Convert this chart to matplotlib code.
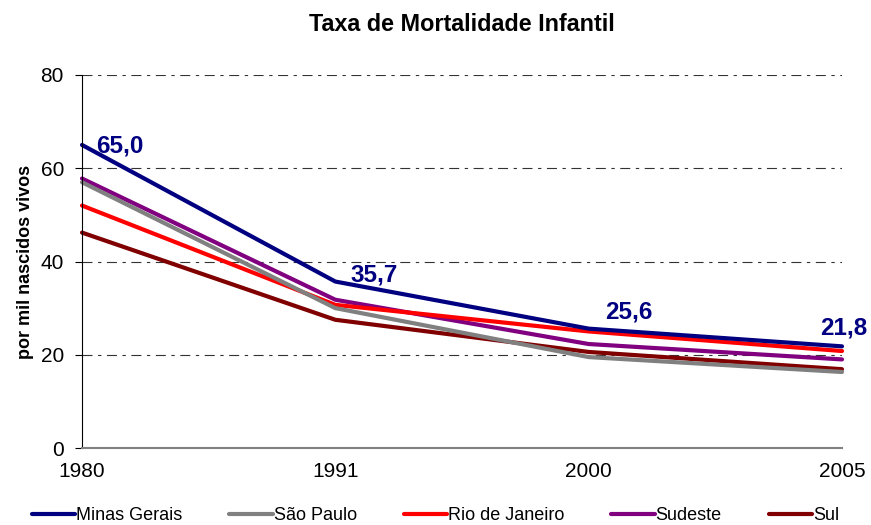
import numpy as np
import matplotlib.pyplot as plt

plt.rcParams['font.family'] = ['Liberation Sans', 'DejaVu Sans']

anos = ['1980', '1991', '2000', '2005']
minas = [65.0, 35.7, 25.6, 21.8]
sao_paulo = [57.0, 30.0, 19.5, 16.3]
rio = [52.0, 30.7, 25.0, 20.8]
sudeste = [57.8, 31.8, 22.3, 19.0]
sul = [46.2, 27.5, 20.6, 16.9]

series = [
    ('Minas Gerais', minas, '#000080'),
    ('São Paulo', sao_paulo, '#808080'),
    ('Rio de Janeiro', rio, '#ff0000'),
    ('Sudeste', sudeste, '#800080'),
    ('Sul', sul, '#800000'),
]

fig = plt.figure(figsize=(8.71, 5.25), dpi=100)
ax = fig.add_axes([82 / 871, 1 - 448 / 525, 760 / 871, 373 / 525])

x = np.arange(len(anos))
# Minas Gerais drawn last so it sits on top
for nome, vals, cor in reversed(series):
    ax.plot(x, vals, color=cor, lw=3, label=nome, solid_capstyle='round',
            clip_on=False)

# label offsets (points) relative to each data point
offs = [(10, -1), (11, 5), (12, 12), (-16, 13)]
for xi, v, (dx, dy) in zip(x, minas, offs):
    ax.annotate(f'{v:.1f}'.replace('.', ','), (xi, v), xytext=(dx, dy),
                textcoords='offset points', color='#000080',
                fontsize=17.5, fontweight='bold', va='center', ha='left',
                annotation_clip=False)

ax.set_xlim(0, 3)
ax.set_ylim(0, 80)
ax.set_yticks(range(0, 81, 20))
ax.set_xticks(x)
ax.set_xticklabels(anos)
ax.tick_params(labelsize=15, direction='out', length=5)
ax.tick_params(axis='y', pad=8)
ax.tick_params(axis='x', pad=10, length=0)
for yv in [20, 40, 60, 80]:
    ax.axhline(yv, color='#333333', lw=0.8, dashes=(9, 5, 3, 5), zorder=0)
ax.spines['top'].set_visible(False)
ax.spines['right'].set_visible(False)
ax.spines['bottom'].set_color('#808080')
ax.spines['bottom'].set_linewidth(1.5)
ax.set_ylabel('por mil nascidos vivos', fontsize=13, fontweight='bold',
              labelpad=5)
ax.set_title('Taxa de Mortalidade Infantil', fontsize=16.8, fontweight='bold',
             pad=32)

handles, labels = ax.get_legend_handles_labels()
fig.legend(handles[::-1], labels[::-1], loc='lower center', ncol=5,
           frameon=False, bbox_to_anchor=(0.5, -0.03),
           prop={'family': ['Liberation Sans Narrow', 'Liberation Sans'],
                 'size': 13},
           handlelength=2.4, handletextpad=0.05, columnspacing=2.6)

fig.savefig('out.png', dpi=100)
